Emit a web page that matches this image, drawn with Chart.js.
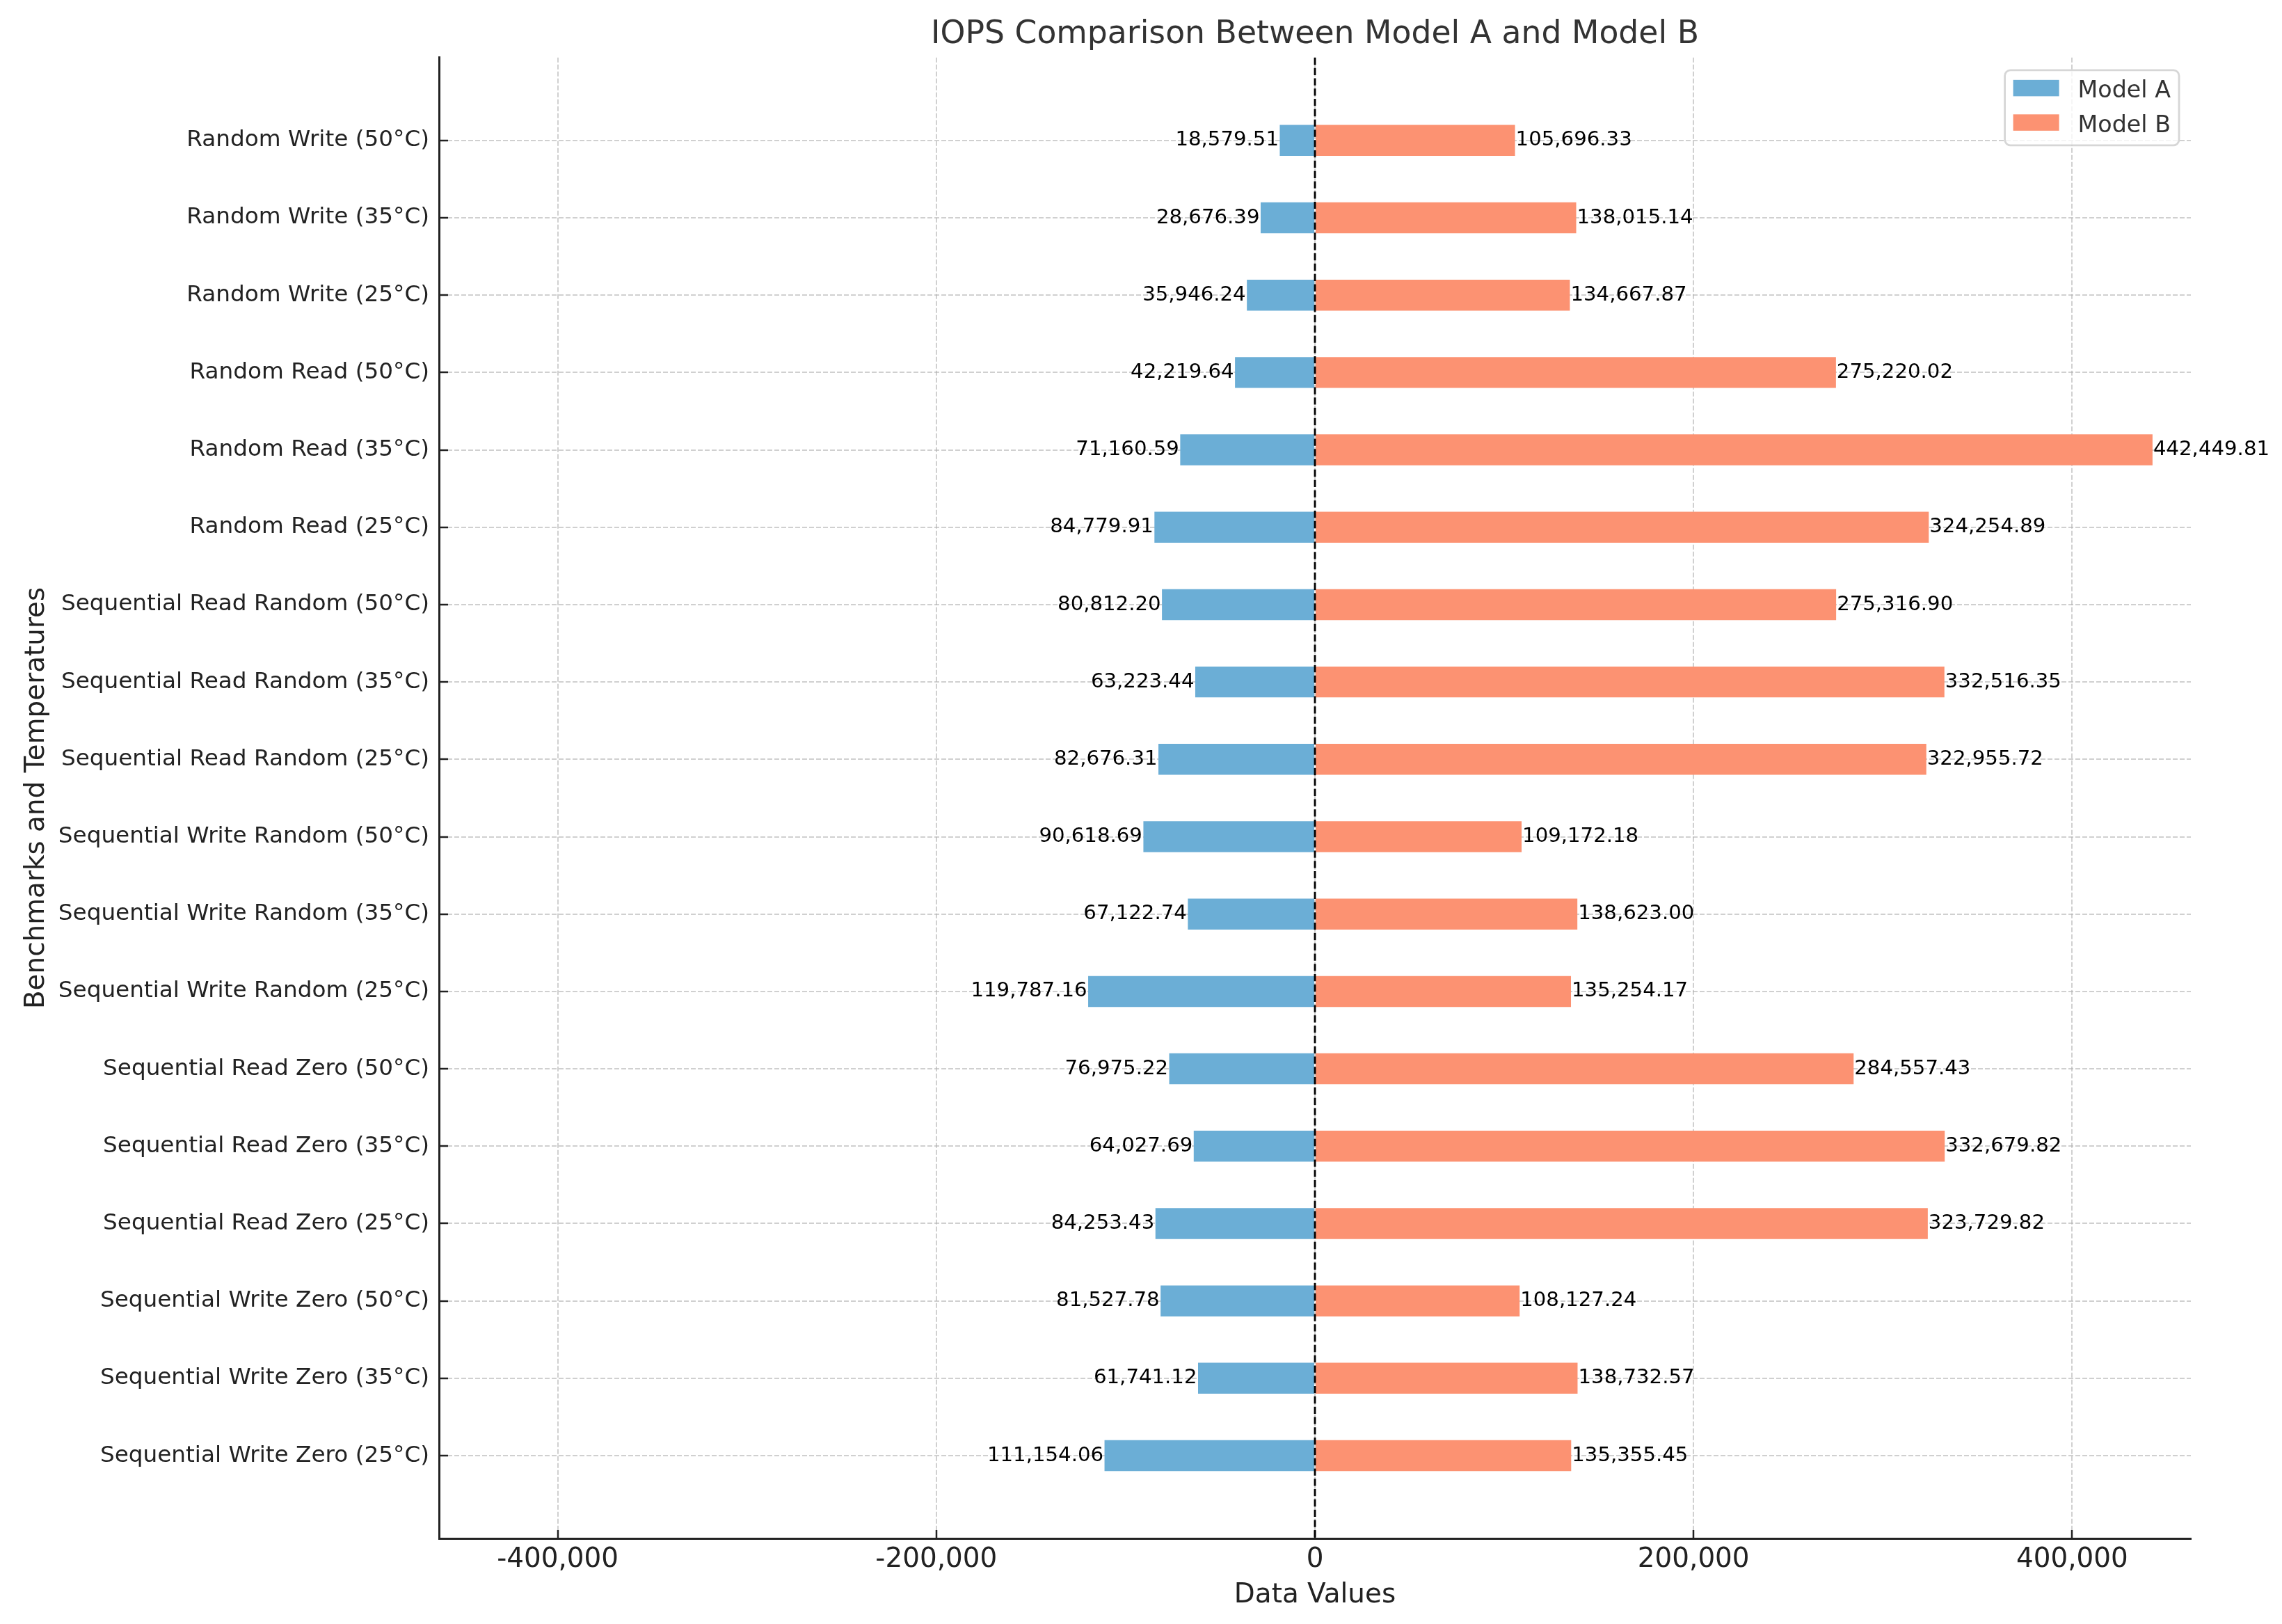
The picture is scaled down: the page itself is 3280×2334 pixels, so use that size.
<!DOCTYPE html>
<html>
<head>
<meta charset="utf-8">
<title>IOPS Comparison Between Model A and Model B</title>
<script src="https://cdn.jsdelivr.net/npm/chart.js@4.4.0/dist/chart.umd.min.js"></script>
<style>
  html, body { margin: 0; padding: 0; background: #fff; }
  canvas { display: block; }
</style>
</head>
<body>
<canvas id="chart" width="3280" height="2334"></canvas>
<script>
// categories, top to bottom
const benchmarks = [
    "Random Write (50°C)",
    "Random Write (35°C)",
    "Random Write (25°C)",
    "Random Read (50°C)",
    "Random Read (35°C)",
    "Random Read (25°C)",
    "Sequential Read Random (50°C)",
    "Sequential Read Random (35°C)",
    "Sequential Read Random (25°C)",
    "Sequential Write Random (50°C)",
    "Sequential Write Random (35°C)",
    "Sequential Write Random (25°C)",
    "Sequential Read Zero (50°C)",
    "Sequential Read Zero (35°C)",
    "Sequential Read Zero (25°C)",
    "Sequential Write Zero (50°C)",
    "Sequential Write Zero (35°C)",
    "Sequential Write Zero (25°C)"
];

// IOPS values (Model A is drawn to the left of zero)
const modelA = [
    18579.51, 28676.39, 35946.24,
    42219.64, 71160.59, 84779.91,
    80812.20, 63223.44, 82676.31,
    90618.69, 67122.74, 119787.16,
    76975.22, 64027.69, 84253.43,
    81527.78, 61741.12, 111154.06
];
const modelB = [
    105696.33, 138015.14, 134667.87,
    275220.02, 442449.81, 324254.89,
    275316.90, 332516.35, 322955.72,
    109172.18, 138623.00, 135254.17,
    284557.43, 332679.82, 323729.82,
    108127.24, 138732.57, 135355.45
];

const xTicks = [-400000, -200000, 0, 200000, 400000];
const xLimit = 462700;

const FONT = "DejaVu Sans";
const gridColor = "rgba(176,176,176,0.6)";
const axisColor = "#222";

Chart.defaults.font.family = FONT;

function fmt2(v) {
    return Math.abs(v).toLocaleString("en-US", {minimumFractionDigits: 2, maximumFractionDigits: 2});
}

// value labels, zero line and legend box
const overlay = {
    id: "overlay",
    afterDraw(chart) {
        const ctx = chart.ctx;
        const area = chart.chartArea;
        const x0 = chart.scales.x.getPixelForValue(0);

        // dashed zero line
        ctx.save();
        ctx.strokeStyle = "#000";
        ctx.lineWidth = 2.8;
        ctx.setLineDash([10.3, 4.5]);
        ctx.beginPath();
        ctx.moveTo(x0, area.top);
        ctx.lineTo(x0, area.bottom);
        ctx.stroke();
        ctx.restore();

        // bar value labels
        ctx.save();
        ctx.font = "29.2px '" + FONT + "'";
        ctx.fillStyle = "#000";
        ctx.textBaseline = "middle";
        chart.data.datasets.forEach((ds, di) => {
            const meta = chart.getDatasetMeta(di);
            meta.data.forEach((bar, i) => {
                const v = ds.data[i].x;
                if (v < 0) {
                    ctx.textAlign = "right";
                    ctx.fillText(fmt2(v), bar.x - 1.5, bar.y);
                } else {
                    ctx.textAlign = "left";
                    ctx.fillText(fmt2(v), bar.x + 1, bar.y);
                }
            });
        });
        ctx.restore();

        // legend
        ctx.save();
        ctx.font = "33.3px '" + FONT + "'";
        const names = chart.data.datasets.map(d => d.label);
        const textW = Math.max(...names.map(n => ctx.measureText(n).width));
        const boxW = 12 + 66 + 27 + textW + 12;
        const boxH = 108;
        const bx = area.right - 17 - boxW;
        const by = area.top + 18;
        ctx.beginPath();
        ctx.roundRect(bx, by, boxW, boxH, 8);
        ctx.fillStyle = "rgba(255,255,255,0.8)";
        ctx.fill();
        ctx.lineWidth = 2.8;
        ctx.strokeStyle = "rgba(204,204,204,0.8)";
        ctx.stroke();
        chart.data.datasets.forEach((ds, di) => {
            const sy = by + 14 + di * 49.5;
            ctx.fillStyle = ds.backgroundColor;
            ctx.fillRect(bx + 12, sy, 66, 23.5);
            ctx.fillStyle = "#333";
            ctx.textAlign = "left";
            ctx.textBaseline = "alphabetic";
            ctx.fillText(ds.label, bx + 12 + 66 + 27, sy + 11.75 + 13.5);
        });
        ctx.restore();
    }
};

const ctx = document.getElementById("chart").getContext("2d");

const chart = new Chart(ctx, {
    type: "bar",
    data: {
        datasets: [
            {
                label: "Model A",
                data: modelA.map((v, i) => ({x: -v, y: i})),
                backgroundColor: "#6baed6",
                grouped: false,
                barPercentage: 0.4,
                categoryPercentage: 1
            },
            {
                label: "Model B",
                data: modelB.map((v, i) => ({x: v, y: i})),
                backgroundColor: "#fc9272",
                grouped: false,
                barPercentage: 0.4,
                categoryPercentage: 1
            }
        ]
    },
    options: {
        indexAxis: "y",
        responsive: false,
        animation: false,
        devicePixelRatio: 1,
        layout: { padding: { left: 0, right: 131, top: 0, bottom: 0 } },
        plugins: {
            legend: { display: false },
            tooltip: { enabled: false },
            title: {
                display: true,
                text: "IOPS Comparison Between Model A and Model B",
                fullSize: false,
                color: "#333",
                font: { size: 45.7, weight: "normal", family: FONT },
                padding: { top: 23, bottom: 5 }
            }
        },
        scales: {
            x: {
                type: "linear",
                position: "bottom",
                min: -xLimit,
                max: xLimit,
                offset: false,
                z: 1,
                afterBuildTicks: s => { s.ticks = xTicks.map(v => ({value: v})); },
                afterFit: s => { s.height = 123; },
                ticks: {
                    color: axisColor,
                    font: { size: 38.9 },
                    padding: 20,
                    maxRotation: 0,
                    callback: v => Math.round(v).toLocaleString("en-US")
                },
                grid: {
                    color: gridColor,
                    lineWidth: 2,
                    offset: false,
                    drawTicks: true,
                    tickLength: -12,
                    tickColor: axisColor,
                    tickWidth: 2.5,
                    tickBorderDash: []
                },
                border: { display: true, color: axisColor, width: 3, dash: [7, 3] },
                title: {
                    display: true,
                    text: "Data Values",
                    color: axisColor,
                    font: { size: 38.9 },
                    padding: { top: 0, bottom: 18 }
                }
            },
            y: {
                type: "linear",
                position: "left",
                reverse: true,
                min: -1.07,
                max: benchmarks.length - 1 + 1.07,
                offset: false,
                z: 1,
                afterBuildTicks: s => { s.ticks = benchmarks.map((b, i) => ({value: i})); },
                afterFit: s => { s.width = 631; },
                ticks: {
                    color: axisColor,
                    font: { size: 32.7 },
                    padding: 27,
                    autoSkip: false,
                    callback: v => benchmarks[v]
                },
                grid: {
                    color: gridColor,
                    lineWidth: 2,
                    offset: false,
                    drawTicks: true,
                    tickLength: -13,
                    tickColor: axisColor,
                    tickWidth: 2.5,
                    tickBorderDash: []
                },
                border: { display: true, color: axisColor, width: 3, dash: [7, 3] },
                title: {
                    display: true,
                    text: "Benchmarks and Temperatures",
                    color: axisColor,
                    font: { size: 38.9 },
                    padding: { top: 30, bottom: 0 }
                }
            }
        }
    },
    plugins: [overlay]
});
</script>
</body>
</html>
